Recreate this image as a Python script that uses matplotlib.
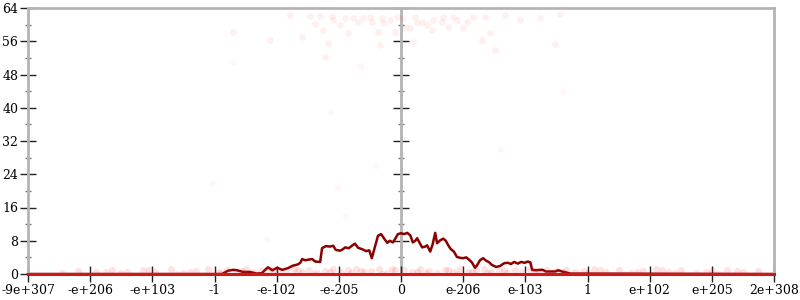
import matplotlib.pyplot as plt
from matplotlib.ticker import MultipleLocator

# x axis is an ordered float-space scale, drawn here in tick units (0..12)
tick_labels = ["-9e+307", "-e+206", "-e+103", "-1", "-e-102", "-e-205", "0",
               "e-206", "e-103", "1", "e+102", "e+205", "2e+308"]

# running curve (x in tick units, y = count)
line_x = [0, 2.77, 3.12, 3.22, 3.30, 3.36, 3.46, 3.57, 3.68, 3.76, 3.83, 3.86,
          3.93, 3.97, 4.01, 4.09, 4.18, 4.26, 4.34, 4.38, 4.41, 4.46, 4.49,
          4.57, 4.62, 4.70, 4.73, 4.79, 4.86, 4.91, 4.95, 5.02, 5.07, 5.10,
          5.16, 5.21, 5.26, 5.31, 5.37, 5.44, 5.49, 5.53, 5.58, 5.63, 5.68,
          5.73, 5.78, 5.82, 5.87, 5.92, 5.95, 6.00, 6.05, 6.10, 6.15, 6.19,
          6.23, 6.26, 6.31, 6.34, 6.39, 6.42, 6.47, 6.51, 6.55, 6.58, 6.63,
          6.68, 6.72, 6.76, 6.80, 6.85, 6.90, 6.95, 7.00, 7.05, 7.09, 7.14,
          7.19, 7.22, 7.27, 7.32, 7.37, 7.42, 7.46, 7.53, 7.59, 7.66, 7.72,
          7.77, 7.82, 7.88, 7.93, 7.99, 8.04, 8.08, 8.11, 8.17, 8.24, 8.28,
          8.33, 8.40, 8.48, 8.53, 8.59, 8.65, 8.72, 8.88, 12]
line_y = [0, 0, 0, 0.8, 1.0, 0.9, 0.5, 0.5, 0.1, 0.2, 1.2, 1.6,
          0.9, 1.2, 1.5, 1.0, 1.4, 2.0, 2.3, 2.7, 3.6, 3.3, 3.4,
          3.6, 3.0, 2.9, 6.2, 6.7, 6.6, 6.8, 5.8, 5.6, 6.0, 6.4,
          6.2, 6.8, 7.3, 6.3, 6.0, 5.5, 5.7, 3.8, 6.5, 9.2, 9.6,
          8.5, 7.5, 8.0, 7.6, 8.8, 9.6, 9.8, 9.6, 9.9, 9.3, 7.6,
          8.0, 8.6, 7.2, 6.4, 6.6, 6.9, 5.4, 7.2, 9.9, 7.4, 8.1,
          8.5, 8.0, 6.9, 6.0, 5.4, 4.1, 3.9, 3.8, 4.0, 3.5, 2.8,
          1.5, 2.0, 3.3, 3.8, 3.2, 2.8, 2.2, 1.7, 1.9, 2.6, 2.7,
          2.4, 2.9, 2.5, 2.9, 2.7, 3.0, 2.8, 1.0, 0.9, 1.0, 1.0,
          0.6, 0.6, 0.6, 0.9, 0.6, 0.4, 0.1, 0.1, 0]

# faint samples near the top
top_x = [4.41, 4.54, 4.62, 4.70, 4.75, 4.78, 4.83, 4.89, 4.91, 5.02, 5.10,
         5.15, 5.23, 5.31, 5.39, 5.50, 5.53, 5.63, 5.66, 5.69, 5.71, 5.82,
         5.90, 5.94, 6.03, 6.06, 6.15, 6.19, 6.23, 6.26, 6.34, 6.42, 6.50,
         6.51, 6.66, 6.68, 6.76, 6.84, 6.90, 7.00, 7.06, 7.16, 7.30, 7.35,
         7.43, 7.51, 7.67, 7.91, 8.24, 8.48, 8.56, 4.21, 3.89, 3.30]
top_y = [57.0, 62.1, 60.2, 62.1, 58.7, 52.2, 55.6, 62.1, 61.1, 59.9, 61.6,
         58.0, 61.6, 60.6, 61.6, 61.8, 60.6, 58.2, 55.1, 61.6, 60.4, 61.1,
         58.2, 61.8, 61.6, 59.4, 59.2, 55.8, 61.8, 60.4, 60.6, 59.9, 58.7,
         61.1, 60.6, 61.8, 59.4, 61.8, 61.1, 59.2, 60.6, 61.8, 56.3, 61.8,
         58.0, 53.9, 62.3, 61.1, 61.6, 55.4, 62.6, 62.3, 56.3, 58.2]

# faint samples scattered in between
mid_x = [3.30, 2.96, 4.86, 4.99, 5.59, 5.35, 8.60, 7.60, 3.85, 5.10]
mid_y = [51.0, 22.0, 39.0, 21.0, 26.0, 50.0, 44.0, 30.0, 8.5, 14.0]

# faint samples along the floor
bot_x = [0.55, 0.80, 1.10, 1.35, 1.60, 1.85, 2.05, 2.30, 2.50, 2.70, 2.90,
         3.05, 3.20, 3.35, 3.50, 3.62, 3.75, 3.90, 4.02, 4.15, 4.28, 4.40,
         4.52, 4.65, 4.78, 4.90, 5.03, 5.15, 5.28, 5.40, 5.52, 5.65, 5.78,
         5.90, 6.05, 6.18, 6.30, 6.45, 6.58, 6.70, 6.83, 6.95, 7.08, 7.20,
         7.33, 7.45, 7.58, 7.70, 7.83, 7.95, 8.08, 8.20, 8.35, 8.50, 8.65,
         8.80, 8.95, 9.10, 9.30, 9.50, 9.70, 9.90, 10.10, 10.30, 10.50,
         10.75, 11.00, 11.25, 11.50, 11.75, 2.40, 3.10, 4.60, 5.20, 5.70,
         6.40, 6.90, 7.40, 8.30, 9.00, 9.60, 10.40, 11.10, 1.50, 3.80,
         1.25, 1.95, 2.60, 3.45, 3.95, 4.35, 4.85, 5.35, 5.85, 6.25, 6.75,
         7.15, 7.65, 8.15, 8.60, 9.20, 9.80, 10.20, 10.90, 11.40]
bot_y = [0.3, 0.8, 0.5, 1.0, 0.4, 0.9, 0.6, 1.1, 0.3, 0.8, 1.2, 0.5, 0.9,
         0.3, 1.1, 0.6, 0.9, 1.3, 0.4, 0.8, 1.1, 0.5, 1.0, 0.3, 0.7, 1.2,
         0.4, 0.9, 1.1, 0.5, 0.8, 1.3, 0.3, 0.9, 1.0, 0.4, 1.2, 0.7, 0.3,
         1.0, 0.6, 1.2, 0.4, 0.9, 1.1, 0.5, 0.8, 0.3, 1.0, 0.6, 1.2, 0.4,
         0.9, 0.7, 1.0, 0.4, 0.8, 1.1, 0.5, 0.9, 0.3, 0.8, 1.1, 0.5, 0.9,
         0.3, 0.7, 1.0, 0.5, 0.8, 0.1, 0.2, 0.1, 0.2, 0.1, 0.2, 0.1, 0.2,
         0.1, 0.2, 0.1, 0.2, 0.1, 0.2, 0.1,
         0.6, 1.0, 0.5, 0.8, 0.6, 1.0, 0.5, 0.7, 1.1, 0.6, 0.9,
         0.5, 1.0, 0.7, 0.5, 0.9, 0.6, 1.0, 0.4, 0.8]

plt.rcParams['font.family'] = ['DejaVu Serif']
grey = '#b4b4b4'

fig = plt.figure(figsize=(8, 3), dpi=100)
ax = fig.add_axes([28 / 800, 26 / 300, 746 / 800, 266 / 300])

ax.plot(line_x, line_y, color='#8b0000', lw=1.8, zorder=2, clip_on=False)
ax.scatter(bot_x, bot_y, s=26, color='#ff2020', alpha=0.13, lw=0, zorder=3)
ax.scatter(top_x, top_y, s=24, color='#ff3030', alpha=0.07, lw=0, zorder=3)
ax.scatter(mid_x, mid_y, s=24, color='#ff3030', alpha=0.04, lw=0, zorder=3)

ax.set_xlim(0, 12)
ax.set_ylim(0, 64)

for side in ['left', 'right', 'top']:
    ax.spines[side].set_color(grey)
    ax.spines[side].set_linewidth(2)
ax.spines['bottom'].set_color('#cc1a1a')
ax.spines['bottom'].set_linewidth(2.2)

ax.set_xticks(range(13))
ax.set_xticklabels(tick_labels)
ax.yaxis.set_major_locator(MultipleLocator(8))
ax.yaxis.set_minor_locator(MultipleLocator(4))
ax.tick_params(axis='x', direction='inout', length=12, width=1, color='#222222',
               labelsize=9, pad=1)
ax.tick_params(axis='y', which='major', direction='inout', length=12, width=1,
               color='#222222', labelsize=9, pad=1, left=True, right=True)
ax.tick_params(axis='y', which='minor', direction='inout', length=5, width=1,
               color='#777777', left=True, right=True)

# centre axis at zero
ax2 = ax.twinx()
ax2.set_ylim(0, 64)
for side in ['left', 'top', 'bottom']:
    ax2.spines[side].set_visible(False)
ax2.spines['right'].set_position(('data', 6))
ax2.spines['right'].set_color(grey)
ax2.spines['right'].set_linewidth(2)
ax2.yaxis.set_major_locator(MultipleLocator(8))
ax2.yaxis.set_minor_locator(MultipleLocator(4))
ax2.tick_params(axis='y', which='major', direction='inout', length=12, width=1,
                color='#222222', labelright=False)
ax2.tick_params(axis='y', which='minor', direction='inout', length=5, width=1,
                color='#777777')
ax2.set_zorder(ax.get_zorder() - 1)
ax.patch.set_visible(False)

fig.savefig('out.png', dpi=100)
